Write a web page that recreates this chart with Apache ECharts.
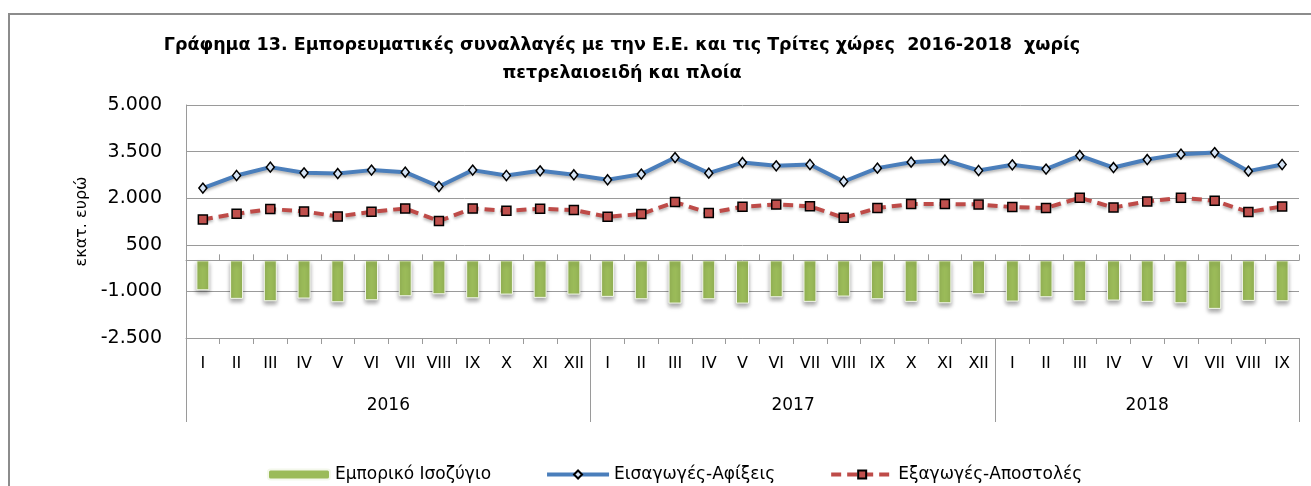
<!DOCTYPE html>
<head>
    <meta charset="utf-8">
    <title>Γράφημα 13</title>
    <script src="https://cdn.jsdelivr.net/npm/echarts@6/dist/echarts.min.js"></script>
</head>
<body style="margin:0;background:#fff">
    <div id="main" style="width:1311px;height:486px"></div>
    <script type="text/javascript">
        // μήνες 2016-2018 (Σεπτ.)
        var months = ['I','II','III','IV','V','VI','VII','VIII','IX','X','XI','XII',
                      'I','II','III','IV','V','VI','VII','VIII','IX','X','XI','XII',
                      'I','II','III','IV','V','VI','VII','VIII','IX'];
        var years = ['2016', '2017', '2018'];
        var monthsPerYear = [12, 12, 9];

        var balance = [-964,-1240,-1317,-1230,-1349,-1285,-1156,-1092,-1221,-1102,-1208,-1102,
                       -1176,-1253,-1391,-1253,-1391,-1188,-1337,-1166,-1253,-1337,-1381,-1092,
                       -1327,-1188,-1317,-1295,-1337,-1381,-1562,-1306,-1317];
        var imports = [2325,2730,3000,2817,2794,2904,2839,2377,2904,2730,2881,2753,
                       2592,2775,3308,2807,3148,3042,3084,2538,2968,3160,3225,2891,
                       3074,2936,3373,2987,3244,3418,3469,2871,3084];
        var exports = [1317,1500,1651,1574,1413,1564,1670,1265,1670,1596,1661,1619,
                       1404,1490,1876,1522,1725,1799,1740,1371,1683,1812,1812,1799,
                       1715,1683,2014,1702,1895,2014,1918,1555,1734];

        var font = "'DejaVu Sans', sans-serif";
        var gridColor = '#9a9a9a';

        // όρια ετών και κέντρα ετικετών για τον άξονα ετών
        var yearBounds = [0], yearCenters = [];
        for (var i = 0; i < monthsPerYear.length; i++) {
            var start = yearBounds[yearBounds.length - 1];
            yearBounds.push(start + monthsPerYear[i]);
            yearCenters.push(start + monthsPerYear[i] / 2);
        }

        function fmt(v) {
            var s = String(Math.abs(v)).replace(/\B(?=(\d{3})+(?!\d))/g, '.');
            return (v < 0 ? '-' : '') + s;
        }

        var myChart = echarts.init(document.getElementById('main'));
        var option = {
            animation: false,
            textStyle: { fontFamily: font },
            title: {
                text: 'Γράφημα 13. Εμπορευματικές συναλλαγές με την Ε.Ε. και τις Τρίτες χώρες  2016-2018  χωρίς\nπετρελαιοειδή και πλοία',
                left: 622,
                top: 31,
                textAlign: 'center',
                padding: 0,
                textStyle: { fontFamily: font, fontSize: 17.5, fontWeight: 'bold', color: '#000', lineHeight: 28 }
            },
            graphic: [{
                type: 'rect',
                shape: { x: 9, y: 14, width: 1340, height: 520 },
                style: { fill: 'none', stroke: '#8c8c8c', lineWidth: 2 },
                silent: true
            }],
            legend: {
                left: 262,
                top: 461,
                itemWidth: 62,
                itemHeight: 10,
                itemGap: 54,
                textStyle: { fontFamily: font, fontSize: 17, color: '#000' },
                data: [
                    { name: 'Εμπορικό Ισοζύγιο' },
                    { name: 'Εισαγωγές-Αφίξεις', lineStyle: { width: 4 } },
                    { name: 'Εξαγωγές-Αποστολές', lineStyle: { width: 4 } }
                ]
            },
            grid: { left: 186, right: 12, top: 105, bottom: 148 },
            xAxis: [
                {
                    // άξονας στο μηδέν, υποδιαιρέσεις προς τα πάνω
                    type: 'category',
                    data: months,
                    position: 'bottom',
                    axisLine: { onZero: true, lineStyle: { color: gridColor, width: 1 } },
                    axisTick: { show: true, inside: true, length: 6, interval: 0, lineStyle: { color: gridColor, width: 1 } },
                    axisLabel: { show: false },
                    z: 5
                },
                {
                    // ίδιος άξονας στο μηδέν, υποδιαιρέσεις προς τα κάτω
                    type: 'category',
                    data: months,
                    position: 'bottom',
                    axisLine: { onZero: true, lineStyle: { color: gridColor, width: 1 } },
                    axisTick: { show: true, length: 6, interval: 0, lineStyle: { color: gridColor, width: 1 } },
                    axisLabel: { show: false },
                    z: 5
                },
                {
                    type: 'category',
                    data: months,
                    position: 'bottom',
                    axisLine: { show: false, onZero: false },
                    axisTick: { length: 41, interval: 0, lineStyle: { color: gridColor } },
                    axisLabel: { interval: 0, margin: 18, fontSize: 16, color: '#000', fontFamily: font }
                },
                {
                    type: 'value',
                    min: 0,
                    max: months.length,
                    position: 'bottom',
                    axisLine: { show: false, onZero: false },
                    splitLine: { show: false },
                    axisTick: { show: true, length: 84, customValues: yearBounds, lineStyle: { color: gridColor } },
                    axisLabel: {
                        customValues: yearCenters,
                        margin: 59,
                        fontSize: 17,
                        color: '#000',
                        fontFamily: font,
                        formatter: function (v) {
                            var k = yearCenters.indexOf(v);
                            return k >= 0 ? years[k] : '';
                        }
                    }
                }
            ],
            yAxis: {
                type: 'value',
                min: -2500,
                max: 5000,
                interval: 1500,
                name: 'εκατ. ευρώ',
                nameLocation: 'middle',
                nameGap: 94,
                nameTextStyle: { fontFamily: font, fontSize: 16, color: '#000' },
                axisLine: { show: true, lineStyle: { color: gridColor } },
                axisTick: { show: false },
                splitLine: { lineStyle: { color: gridColor, width: 1 } },
                axisLabel: { fontSize: 19, color: '#000', margin: 24, fontFamily: font, formatter: fmt }
            },
            series: [
                {
                    name: 'Εμπορικό Ισοζύγιο',
                    type: 'bar',
                    data: balance,
                    barWidth: 13,
                    itemStyle: {
                        color: '#9bbb59',
                        borderColor: '#f4f8ec',
                        borderWidth: 1,
                        shadowColor: 'rgba(0,0,0,0.35)',
                        shadowBlur: 4,
                        shadowOffsetY: 3
                    }
                },
                {
                    name: 'Εισαγωγές-Αφίξεις',
                    type: 'line',
                    data: imports,
                    symbol: 'diamond',
                    symbolSize: [8, 10],
                    lineStyle: { color: '#4a7ebb', width: 4, shadowColor: 'rgba(0,0,0,0.3)', shadowBlur: 3, shadowOffsetY: 2 },
                    itemStyle: { color: '#d6e4f5', borderColor: '#000', borderWidth: 1.5 },
                    z: 3
                },
                {
                    name: 'Εξαγωγές-Αποστολές',
                    type: 'line',
                    data: exports,
                    symbol: 'rect',
                    symbolSize: 9,
                    lineStyle: { color: '#be4b48', width: 4, type: [10, 6], shadowColor: 'rgba(0,0,0,0.3)', shadowBlur: 3, shadowOffsetY: 2 },
                    itemStyle: { color: '#c0504d', borderColor: '#000', borderWidth: 1.5 },
                    z: 3
                }
            ]
        };
        myChart.setOption(option);
    </script>
</body>
